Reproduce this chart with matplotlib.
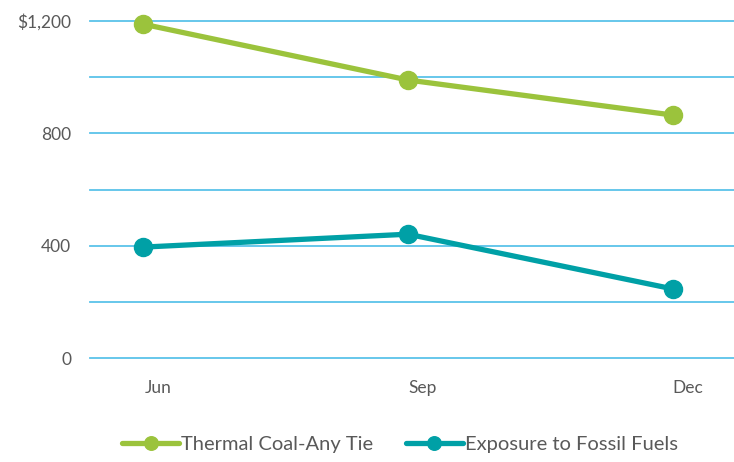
import matplotlib.pyplot as plt
import matplotlib.transforms as mtransforms

# data
months = ['Jun', 'Sep', 'Dec']
coal = [1189, 990, 865]
fossil = [395, 441, 246]
y_ticks = [0, 400, 800, 1200]
y_labels = ['0', '400', '800', '$1,200']
grid_levels = [0, 200, 400, 600, 800, 1000, 1200]

green = '#9BC33C'
teal = '#00A0A6'
grid_col = '#5BC3E9'
text_col = '#595959'

plt.rcParams['font.family'] = ['Lato', 'DejaVu Sans']

fig = plt.figure(figsize=(7.34, 4.62), dpi=100)
ax = fig.add_axes([0.1226, 0.225, 0.8774, 0.7295])

# horizontal gridlines
for g in grid_levels:
    ax.axhline(g, color=grid_col, lw=1.3, zorder=1, clip_on=False)

x = list(range(len(months)))
ax.plot(x, coal, color=green, lw=3.8, marker='o', ms=13, clip_on=False,
        solid_capstyle='round', label='Thermal Coal-Any Tie', zorder=3)
ax.plot(x, fossil, color=teal, lw=3.8, marker='o', ms=13, clip_on=False,
        solid_capstyle='round', label='Exposure to Fossil Fuels', zorder=3)

ax.set_xlim(-0.2, 2.23)
ax.set_ylim(0, 1200)
ax.set_yticks(y_ticks)
ax.set_yticklabels(y_labels)
ax.set_xticks(x)
ax.set_xticklabels(months)
ax.grid(False)

ax.tick_params(axis='both', which='both', length=0, labelcolor=text_col, labelsize=12.5)
ax.tick_params(axis='y', pad=13.5)
ax.tick_params(axis='x', pad=16)
for s in ax.spines.values():
    s.set_visible(False)

offset = mtransforms.ScaledTranslation(0.15, 0, fig.dpi_scale_trans)
for lab in ax.xaxis.get_majorticklabels():
    lab.set_transform(lab.get_transform() + offset)

leg = fig.legend(loc='lower center', bbox_to_anchor=(0.545, -0.02), ncol=2,
                 frameon=False, fontsize=14.5, handlelength=2.8, columnspacing=1.65,
                 handletextpad=0.1, markerscale=0.75)
for t in leg.get_texts():
    t.set_color(text_col)

fig.savefig('out.png', dpi=100)
